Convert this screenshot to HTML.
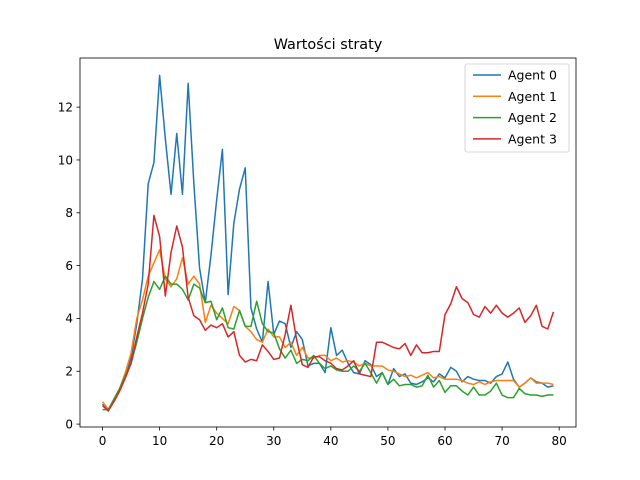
<!DOCTYPE html>
<html><head><meta charset="utf-8"><style>body{margin:0;background:#fff}svg{display:block;font-family:"DejaVu Sans","Liberation Sans",sans-serif}</style></head>
<body>
<svg id="chart" width="640" height="480">
<rect width="640" height="480" fill="#fff"/>
<text x="328" y="49" font-size="14.4" text-anchor="middle">Wartości straty</text>
<g id="plot"></g>
<g id="axes"></g>
<rect x="80" y="58" width="496" height="369" fill="none" stroke="#000" stroke-width="0.8"/>
<g id="legend"></g>
</svg>
<script>
const seriesNames = ["Agent 0","Agent 1","Agent 2","Agent 3"];
const colors = ["#1f77b4","#ff7f0e","#2ca02c","#d62728"];
const agent0 = [0.75,0.5,0.9,1.3,1.8,2.5,3.8,5.5,9.1,9.9,13.2,10.8,8.7,11.0,8.7,12.9,9.1,5.9,4.6,6.4,8.5,10.4,4.9,7.6,8.9,9.7,4.4,3.6,3.1,5.4,3.4,3.9,3.8,2.9,3.5,3.2,2.2,2.3,2.3,1.95,3.65,2.6,2.8,2.3,1.95,1.9,2.4,2.25,1.8,1.95,1.5,2.1,1.8,1.9,1.55,1.5,1.6,1.75,1.6,1.9,1.75,2.15,2.0,1.6,1.8,1.7,1.65,1.65,1.55,1.8,1.9,2.35,1.7,1.4,1.55,1.75,1.6,1.55,1.4,1.45];
const agent1 = [0.85,0.55,0.9,1.35,1.95,2.7,4.0,4.7,5.6,6.1,6.6,5.5,5.2,5.5,6.3,5.3,5.6,5.3,3.85,4.5,4.2,4.0,3.8,4.45,4.3,3.7,3.5,3.2,3.1,3.6,3.3,3.3,2.9,3.1,2.6,2.9,2.5,2.5,2.6,2.6,2.4,2.5,2.35,2.4,2.35,2.2,2.3,2.2,2.2,2.2,2.05,2.0,1.9,1.8,1.85,1.75,1.85,1.95,1.75,1.8,1.7,1.7,1.7,1.65,1.55,1.5,1.6,1.5,1.6,1.65,1.65,1.65,1.65,1.4,1.55,1.75,1.55,1.55,1.55,1.5];
const agent2 = [0.55,0.55,0.95,1.35,1.85,2.3,3.1,4.0,4.8,5.4,5.1,5.6,5.3,5.3,5.1,4.7,5.3,5.15,4.6,4.65,3.95,4.4,3.65,3.6,4.3,3.7,3.7,4.65,3.8,3.5,3.45,2.85,2.5,2.8,2.3,2.45,2.4,2.6,2.3,2.1,2.2,2.05,2.0,2.0,2.2,2.0,2.3,1.95,1.55,1.95,1.5,1.7,1.45,1.5,1.5,1.4,1.45,1.85,1.4,1.65,1.2,1.45,1.45,1.25,1.1,1.4,1.1,1.1,1.25,1.55,1.1,1.0,1.0,1.35,1.15,1.1,1.1,1.05,1.1,1.1];
const agent3 = [0.7,0.5,0.85,1.25,1.75,2.3,3.3,4.2,5.3,7.9,7.1,4.85,6.5,7.5,6.7,4.8,4.1,3.95,3.55,3.75,3.65,3.8,3.3,3.5,2.6,2.35,2.45,2.4,3.0,2.75,2.45,2.5,3.4,4.5,3.2,2.25,2.15,2.55,2.55,2.4,2.3,2.1,2.05,2.2,2.4,1.9,1.85,1.8,3.1,3.1,3.0,2.9,2.85,3.05,2.6,3.0,2.7,2.7,2.75,2.75,4.15,4.55,5.2,4.75,4.6,4.15,4.05,4.45,4.2,4.5,4.2,4.05,4.2,4.4,3.85,4.1,4.5,3.7,3.6,4.25];
const xTicks = [0,10,20,30,40,50,60,70,80];
const yTicks = [0,2,4,6,8,10,12];
const allSeries = [agent0,agent1,agent2,agent3];

const NS="http://www.w3.org/2000/svg";
const L=80,R=576,T=58,B=427;
const xMin=-3.95,xMax=82.95,yMin=-0.11,yMax=13.86;
const sx=v=>L+(v-xMin)/(xMax-xMin)*(R-L);
const sy=v=>B-(v-yMin)/(yMax-yMin)*(B-T);
function mk(tag,attrs,parent){const e=document.createElementNS(NS,tag);for(const k in attrs)e.setAttribute(k,attrs[k]);parent.appendChild(e);return e;}
const plot=document.getElementById('plot'),axes=document.getElementById('axes'),legend=document.getElementById('legend');
allSeries.forEach((s,i)=>{
  const p=mk('polyline',{points:s.map((v,j)=>sx(j)+','+sy(v)).join(' '),fill:'none',stroke:colors[i],'stroke-width':1.5,'stroke-linejoin':'round'},plot);
  
  
});
xTicks.forEach(t=>{
  const g=mk('g',{},axes);
  
  
  mk('line',{x1:sx(t),x2:sx(t),y1:B,y2:B+3.5,stroke:'#000','stroke-width':0.8},g);
  const tx=mk('text',{x:sx(t),y:B+18,'font-size':12,'text-anchor':'middle'},g);tx.textContent=t;
});
yTicks.forEach(t=>{
  const g=mk('g',{},axes);
  
  
  mk('line',{x1:L-3.5,x2:L,y1:sy(t),y2:sy(t),stroke:'#000','stroke-width':0.8},g);
  const tx=mk('text',{x:L-7,y:sy(t)+4.3,'font-size':12,'text-anchor':'end'},g);tx.textContent=t;
});
const box=mk('rect',{x:465,y:64,width:104,height:88,rx:2,fill:'#fff','fill-opacity':0.8,stroke:'#ccc','stroke-width':0.8},legend);


seriesNames.forEach((n,i)=>{
  const y=75+i*21.3;
  const g=mk('g',{},legend);
  
  
  mk('line',{x1:473,x2:501,y1:y,y2:y,stroke:colors[i],'stroke-width':1.5},g);
  const tx=mk('text',{x:508,y:y+4.5,'font-size':12.5},g);tx.textContent=n;
});
</script>
</body></html>
